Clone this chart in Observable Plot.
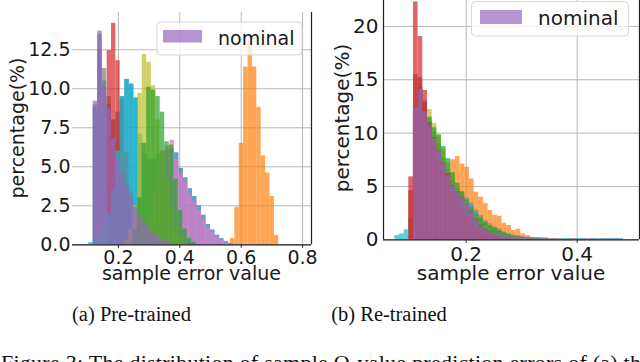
<!DOCTYPE html>
<html><head><meta charset="utf-8">
<script src="https://cdn.jsdelivr.net/npm/d3@7"></script>
<script src="https://cdn.jsdelivr.net/npm/@observablehq/plot@0.6"></script>
<style>
body{margin:0;background:#fff;}
#wrap{position:relative;width:640px;height:362px;overflow:hidden;background:#fff;}
#wrap > svg{position:absolute;top:0;}
#overlay{position:absolute;left:0;top:0;}
</style></head><body><div id="wrap"></div>
<script>
// ---------- colours (matplotlib tab10) ----------
const colors = {blue:"#1f77b4", orange:"#ff7f0e", green:"#2ca02c", red:"#d62728", purple:"#9467bd",
  brown:"#8c564b", pink:"#e377c2", gray:"#7f7f7f", olive:"#bcbd22", cyan:"#17becf"};
const preOrder = ["blue","orange","gray","red","cyan","pink","olive","green","purple"];
const reOrder = ["blue","orange","gray","cyan","pink","olive","green","brown","red","purple"];
const legendLabel = "nominal";

// ---------- (a) Pre-trained : histogram bin starts, widths, heights (%) ----------
const preBlueStart = 0.118, preBlueWidth = 0.0147;
const preBlue = [8.8,12.5,10.5,9.0,8.0,8.5,9.5,10.6,10.3,9.4,6.5,5.8,5.5,5.5,5.8,6.0,6.1,6.2,5.9,4.9,4.3,3.6,3.1,2.5,1.9,1.3,0.95,0.62,0.4,0.22,0.1];
const prePinkStart = 0.2797, prePinkWidth = 0.0147;
const prePink = [1.0,2.0,3.5,5.0,6.0,6.3,6.7,5.5,4.6,4.0,3.3,2.8,2.2,1.6,1.1,0.8,0.5,0.3,0.12];
const preOrangeStart = 0.565, preOrangeWidth = 0.01432;
const preOrange = [0.4,2.4,6.5,11.4,12.9,11.4,8.8,5.7,4.6,3.1,0.6];
const preGrayStart = 0.118, preGrayWidth = 0.0147;
const preGray = [9.0,13.7,11.3,9.5,8.0,6.5,5.2,4.2,3.3,2.5,1.9,1.4,1.0,0.7,0.4,0.2,0.1];
const preRedStart = 0.1635, preRedWidth = 0.0141;
const preRed = [12.45,14.2,11.8,9.3,5.9,3.4,2.3,1.5,0.6,0.2];
const preCyanStart = 0.1033, preCyanWidth = 0.0147;
const preCyan = [0.15,0.3,0.6,1.2,2.0,3.5,6.0,9.5,10.6,10.3,9.4,7.1,4.2,2.5,1.3,0.6,0.2];
const preOliveStart = 0.2189, preOliveWidth = 0.0147;
const preOlive = [0.3,1.0,2.5,9.7,12.2,11.7,10.2,8.0,6.0,4.2,2.5,1.2,0.5,0.2];
const preGreenStart = 0.248, preGreenWidth = 0.0147;
const preGreen = [1.0,3.0,6.5,10.1,9.9,9.5,8.5,6.6,6.4,4.2,2.2,1.0,0.4,0.15];
const prePurpleStart = 0.118, prePurpleWidth = 0.0147;
const prePurple = [9.2,13.5,10.1,8.7,6.8,5.5,4.6,3.8,3.0,2.4,1.8,1.4,1.0,0.7,0.5,0.35,0.2,0.1];
const preXTicks = [0.2,0.4,0.6,0.8];
const preYTicks = [0,2.5,5,7.5,10,12.5];

// ---------- (b) Re-trained ----------
const reStart = 0.0966, reWidth = 0.0084;
const reBlue = [0,12.0,14.3,12.8,11.3,10.1,9.0,7.7,6.65,5.6,4.9,4.46,3.9,3.5,2.8,2.3,1.8,1.5,1.2,1.05,0.78,0.6,0.45,0.38,0.3,0.25,0.2,0.2,0.15,0.12,0.1,0.1,0.08,0.08,0.08,0.1,0.08,0.1,0.08,0.1,0.08,0.1,0.1,0.08,0.1,0.08];
const reOrange = [0,9.0,10.0,9.5,8.5,7.8,7.0,6.4,6.5,7.5,7.8,7.1,6.8,5.7,4.46,4.0,3.4,2.75,2.3,2.2,1.56,1.34,0.87,1.0,0.56,0.4,0.25,0.2,0.2,0.2,0.1,0.08,0.05,0.05,0.08,0.1,0.05,0.08,0.05,0.1];
const reGray = [0,11.5,14.0,12.5,11.0,9.8,8.7,7.5,6.4,5.4,4.7,4.2,3.7,3.2,2.6,2.1,1.6,1.3,1.0,0.85,0.65,0.5,0.4,0.3,0.25,0.2,0.15,0.12,0.1,0.08];
const reBrown = [4.6,15.5,15.2,13.0,11.0,9.6,8.4,7.2,6.1,5.1,4.5,4.0,3.4,2.7,2.0,1.4,1.0,0.75,0.55,0.4,0.3,0.2,0.15,0.1];
const reRed = [5.9,22.3,19.05,14.0,10.5,9.0,7.5,6.5,6.2,4.5,3.6,2.8,2.2,1.6,1.1,0.8,0.55,0.4,0.3,0.2,0.15,0.1];
const reCyanStart = 0.0714;
const reCyan = [0.4,0.55,0.94,2.0,12.0,14.0,12.5,11.0,9.8,8.7,7.6,6.5,5.5,4.8,4.3,3.8,3.3,2.7,2.1,1.6,1.2,0.9,0.7,0.5,0.4,0.3,0.25,0.2,0.15,0.12,0.1,0.08,0.06,0.05,0.05,0.05,0.08,0.1,0.05,0.1,0.08,0.05,0.1,0.08,0.1,0.05,0.1,0.08,0.1];
const rePink = [0,12.0,13.9,12.2,10.8,9.6,8.5,7.3,6.2,5.2,4.6,4.1,3.6,2.9,2.2,1.6,1.2,0.9,0.7,0.55,0.4,0.3,0.25,0.2,0.15,0.12,0.1,0.08,0.06,0.05,0.05,0.05,0.05,0.04,0.04,0.06,0.04,0.08,0.05,0.08,0.05,0.08,0.05,0.08,0.05,0.06];
const reOlive = [0,12.5,14.0,12.6,12.2,10.9,9.9,8.5,7.2,6.0,5.0,4.2,3.5,2.8,2.2,1.7,1.3,1.0,0.7,0.5,0.35,0.25,0.2,0.15,0.1,0.08];
const reGreen = [0,12.0,13.8,12.3,11.5,10.5,9.8,8.75,7.6,6.3,5.3,4.5,3.7,3.0,2.4,2.0,1.6,1.3,1.1,0.8,0.6,0.45,0.35,0.25,0.2,0.15,0.1,0.08];
const rePurple = [0,12.4,14.1,12.0,10.6,9.4,8.3,7.1,6.0,5.0,4.4,3.9,3.4,2.6,1.9,1.2,0.87,0.65,0.5,0.4,0.3,0.25,0.2,0.18,0.15,0.12,0.1,0.08,0.06,0.05,0.05,0.04,0.04,0.03];
const reXTicks = [0.2,0.4];
const reYTicks = [0,5,10,15,20];

// ---------- helpers ----------
function bins(start, width, values) {
  return values.map((v, i) => ({x1: start + i * width, x2: start + (i + 1) * width, y: v}));
}
const preSeries = {
  blue: bins(preBlueStart, preBlueWidth, preBlue),
  orange: bins(preOrangeStart, preOrangeWidth, preOrange),
  gray: bins(preGrayStart, preGrayWidth, preGray),
  red: bins(preRedStart, preRedWidth, preRed),
  cyan: bins(preCyanStart, preCyanWidth, preCyan),
  pink: bins(prePinkStart, prePinkWidth, prePink),
  olive: bins(preOliveStart, preOliveWidth, preOlive),
  green: bins(preGreenStart, preGreenWidth, preGreen),
  purple: bins(prePurpleStart, prePurpleWidth, prePurple)
};
const reSeries = {
  blue: bins(reStart, reWidth, reBlue),
  orange: bins(reStart, reWidth, reOrange),
  gray: bins(reStart, reWidth, reGray),
  brown: bins(reStart, reWidth, reBrown),
  red: bins(reStart, reWidth, reRed),
  cyan: bins(reCyanStart, reWidth, reCyan),
  pink: bins(reStart, reWidth, rePink),
  olive: bins(reStart, reWidth, reOlive),
  green: bins(reStart, reWidth, reGreen),
  purple: bins(reStart, reWidth, rePurple)
};

const gridColor = "#b8b8b8", spineColor = "#262626";

function panel(o) {
  const marks = [
    Plot.gridY(o.yTicks, {stroke: gridColor, strokeOpacity: 1, strokeWidth: 1}),
    Plot.gridX(o.xTicks, {stroke: gridColor, strokeOpacity: 1, strokeWidth: 1})
  ];
  for (const k of o.order) {
    if (!o.series[k]) continue;
    marks.push(Plot.rect(o.series[k], {x1: "x1", x2: "x2", y1: 0, y2: "y", fill: colors[k], fillOpacity: 0.7}));
  }
  marks.push(
    Plot.axisX(o.xTicks, {tickSize: 3.5, tickPadding: o.xPad, tickFormat: d3.format(".1f"), label: null, stroke: spineColor}),
    Plot.axisY(o.yTicks, {tickSize: 0, tickPadding: o.yPad, tickFormat: o.yFormat, label: null}),
    Plot.ruleY([0], {stroke: spineColor, strokeWidth: 1.25}),
    ...o.spinesX.map(v => Plot.ruleX([v], {stroke: spineColor, strokeWidth: 1.25}))
  );
  const svg = Plot.plot({
    width: 320, height: 290,
    marginLeft: o.ml, marginRight: o.mr, marginTop: o.mt, marginBottom: o.mb,
    x: {domain: o.xDomain},
    y: {domain: o.yDomain},
    style: {fontFamily: "DejaVu Sans", fontSize: o.fontSize + "px", color: "#1a1a1a", background: "transparent", overflow: "visible"},
    marks
  });
  svg.style.left = o.left + "px";
  return svg;
}

const wrap = document.getElementById("wrap");
wrap.appendChild(panel({
  series: preSeries, order: preOrder, xTicks: preXTicks, yTicks: preYTicks, yFormat: d3.format(".1f"),
  xDomain: [0.0505, 0.829], yDomain: [0, 14.89],
  ml: 72, mr: 9, mt: 12, mb: 45.7, left: 0, fontSize: 19, xPad: 2, yPad: 2,
  spinesX: [0.829]
}));
wrap.appendChild(panel({
  series: reSeries, order: reOrder, xTicks: reXTicks, yTicks: reYTicks, yFormat: d3.format("d"),
  xDomain: [0.051, 0.5123], yDomain: [0, 22.43],
  ml: 63, mr: 1, mt: 0, mb: 50.7, left: 320, fontSize: 20, xPad: 3.5, yPad: 5,
  spinesX: [0.051, 0.5123]
}));

// ---------- overlay: legends, axis titles, captions ----------
const ns = "http://www.w3.org/2000/svg";
const ov = document.createElementNS(ns, "svg");
ov.setAttribute("id", "overlay");
ov.setAttribute("width", 640); ov.setAttribute("height", 362);
wrap.appendChild(ov);
function el(tag, attrs, text) {
  const e = document.createElementNS(ns, tag);
  for (const k in attrs) e.setAttribute(k, attrs[k]);
  if (text != null) e.textContent = text;
  ov.appendChild(e); return e;
}
const sans = "DejaVu Sans", serif = "Liberation Serif";
function legend(x, y, w, h, px, py, pw, ph, tx, ty, fs) {
  el("rect", {x, y, width: w, height: h, rx: 4, fill: "#fff", "fill-opacity": 0.8, stroke: "#d6d6d6", "stroke-width": 1});
  el("rect", {x: px, y: py, width: pw, height: ph, fill: colors.purple, "fill-opacity": 0.7});
  el("text", {x: tx, y: ty, "font-family": sans, "font-size": fs, fill: "#1a1a1a"}, legendLabel);
}
legend(157, 22, 145, 33, 163, 30, 39, 12.5, 218, 44.5, 19);
legend(471.5, 1.5, 157, 34.5, 480, 10, 42, 14, 538, 25, 20);
el("text", {x: 191.5, y: 280, "text-anchor": "middle", "font-family": sans, "font-size": 19, fill: "#1a1a1a"}, "sample error value");
el("text", {x: 511, y: 280, "text-anchor": "middle", "font-family": sans, "font-size": 20, fill: "#1a1a1a"}, "sample error value");
el("text", {transform: "translate(24,128) rotate(-90)", "text-anchor": "middle", "font-family": sans, "font-size": 19, fill: "#1a1a1a"}, "percentage(%)");
el("text", {transform: "translate(349,118) rotate(-90)", "text-anchor": "middle", "font-family": sans, "font-size": 20, fill: "#1a1a1a"}, "percentage(%)");
el("text", {x: 131.5, y: 321, "text-anchor": "middle", "font-family": serif, "font-size": 20.5, fill: "#111"}, "(a) Pre-trained");
el("text", {x: 389, y: 321, "text-anchor": "middle", "font-family": serif, "font-size": 20.5, fill: "#111"}, "(b) Re-trained");
el("text", {x: 1, y: 370, "font-family": serif, "font-size": 22, fill: "#111", textLength: 650, lengthAdjust: "spacing"}, "Figure 3: The distribution of sample Q-value prediction errors of (a) the");
</script></body></html>
